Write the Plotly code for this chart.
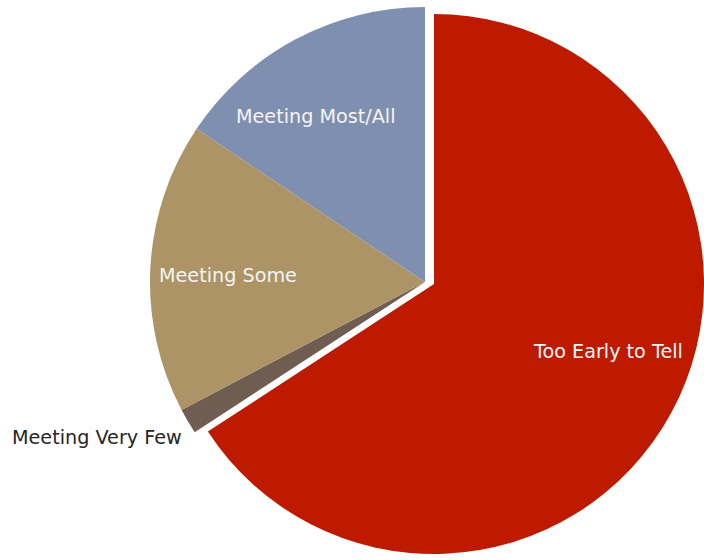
import plotly.graph_objects as go

categories = ["Too Early to Tell", "Meeting Very Few", "Meeting Some", "Meeting Most/All"]
values = [65.8, 1.5, 17.1, 15.6]
colors = ["#BE1A00", "#6F5D51", "#AD9467", "#7F8FAF"]

W, H = 704, 560

fig = go.Figure()

# base pie: all slices except the exploded one
base_colors = ["rgba(0,0,0,0)"] + colors[1:]
fig.add_trace(go.Pie(
    labels=categories, values=values, sort=False, direction="clockwise", rotation=0,
    marker=dict(colors=base_colors, line=dict(width=0)),
    textinfo="none", hoverinfo="label+percent",
    domain=dict(x=[150 / W, 700 / W], y=[3 / H, 553 / H]),
))

# exploded slice drawn as its own trace, offset outward
ex_colors = [colors[0]] + ["rgba(0,0,0,0)"] * 3
fig.add_trace(go.Pie(
    labels=categories, values=values, sort=False, direction="clockwise", rotation=0,
    marker=dict(colors=ex_colors, line=dict(width=0)),
    textinfo="none", hoverinfo="label+percent",
    domain=dict(x=[164 / W, 1.0], y=[4 / H, 548 / H]),
))

label_pos = {
    "Too Early to Tell": (608, 351, "#F4F4F4"),
    "Meeting Most/All": (316, 116, "#F4F4F4"),
    "Meeting Some": (228, 275, "#F4F4F4"),
    "Meeting Very Few": (97, 437, "#262626"),
}
for name, (px, py, col) in label_pos.items():
    fig.add_annotation(
        x=px / W, y=1 - py / H, xref="paper", yref="paper",
        text=name, showarrow=False,
        font=dict(family="DejaVu Sans", size=19.2, color=col),
        xanchor="center", yanchor="middle",
    )

fig.update_layout(
    width=W, height=H,
    margin=dict(l=0, r=0, t=0, b=0),
    showlegend=False,
    paper_bgcolor="white", plot_bgcolor="white",
)

fig.write_html(
    "out.html",
    config={"displayModeBar": False},
    post_script="document.body.style.margin='0';document.body.style.overflow='hidden';",
)
